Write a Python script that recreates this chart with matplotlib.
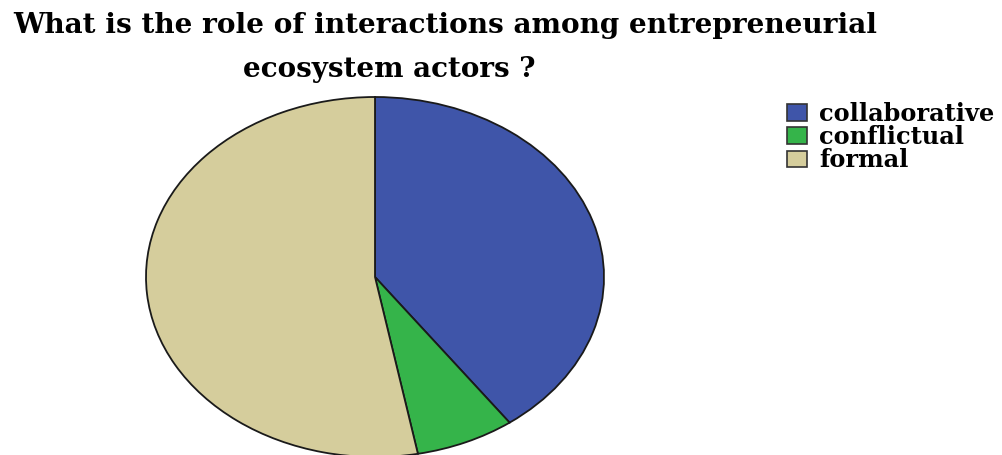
import matplotlib
matplotlib.use("Agg")
import matplotlib.pyplot as plt

categories = ["collaborative", "conflictual", "formal"]
values = [40, 7, 53]
colors = ["#3F55A9", "#35B44A", "#D5CD9C"]
title_line1 = "What is the role of interactions among entrepreneurial"
title_line2 = "ecosystem actors ?"

W, H = 1003, 455
fig = plt.figure(figsize=(W / 100, H / 100), dpi=100)
cx, cy, rx, ry = 375, 277, 229, 180
ax = fig.add_axes([(cx - rx) / W, (H - cy - ry) / H, 2 * rx / W, 2 * ry / H])
wedges, _ = ax.pie(values, colors=colors, startangle=90, counterclock=False,
                   wedgeprops=dict(edgecolor="#1a1a1a", linewidth=1.3))
ax.set_aspect("auto")
ax.set_xlim(-1.0, 1.0)
ax.set_ylim(-1.0, 1.0)
ax.axis("off")
for w in wedges:
    w.set_clip_on(False)

renderer = fig.canvas.get_renderer()


def fit_text(x, y, s, target_w, ha):
    t = fig.text(x / W, 1 - y / H, s, family="DejaVu Serif", weight="bold",
                 fontsize=16, ha=ha, va="baseline")
    w = t.get_window_extent(renderer).width
    t.set_fontsize(16 * target_w / w)
    return t


fit_text(13, 33, title_line1, 860, "left")
fit_text(389, 77, title_line2, 292, "center")

leg = fig.legend(wedges, categories, loc="upper left", bbox_to_anchor=(782 / W, 1 - 97 / H),
                 frameon=False, prop=dict(family="DejaVu Serif", weight="bold", size=17.3),
                 handlelength=0.85, handleheight=0.7, handletextpad=0.5, labelspacing=-0.03,
                 borderpad=0.2, borderaxespad=0)
for h in leg.legend_handles:
    h.set_edgecolor("#333333")
    h.set_linewidth(1.2)

fig.savefig("out.png", dpi=100)
